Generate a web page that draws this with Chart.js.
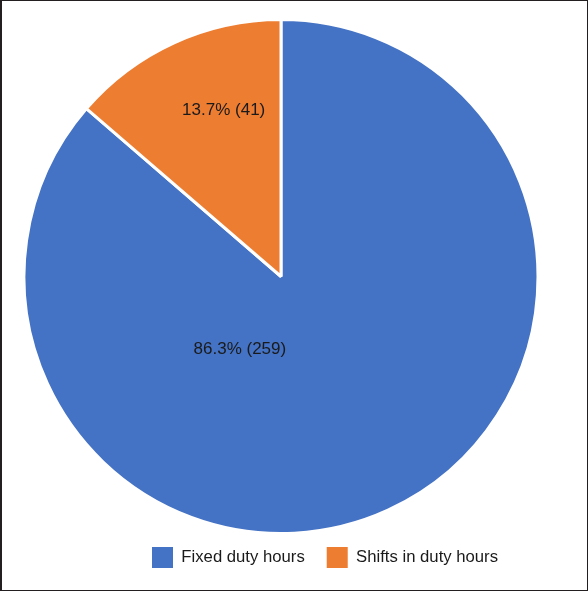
<!DOCTYPE html>
<html>
<head>
<meta charset="utf-8">
<script src="https://cdn.jsdelivr.net/npm/chart.js@4.4.1/dist/chart.umd.min.js"></script>
<style>
  html, body { margin: 0; padding: 0; background: #fff; }
  #wrap { position: relative; width: 588px; height: 591px; }
  #frame { position: absolute; left: 0; top: 0; width: 588px; height: 591px; box-sizing: border-box; border: 1px solid #231f20; border-left-width: 2px; pointer-events: none; }
</style>
</head>
<body>
<div id="wrap">
  <canvas id="pie" width="588" height="591"></canvas>
  <div id="frame"></div>
</div>
<script>
const categories = ['Fixed duty hours', 'Shifts in duty hours']
const counts = [259, 41]
const percents = ['86.3%', '13.7%']
const colors = ['#4472C4', '#ED7D31']

// where Excel put the labels, as a fraction of the radius from the centre
const labelSpots = [[-0.16, 0.285], [-0.223, -0.645]]

const fontFamily = '"Liberation Sans", Arial, sans-serif'

const sliceLabels = {
  id: 'sliceLabels',
  afterDatasetsDraw(chart) {
    const ctx = chart.ctx
    const arc = chart.getDatasetMeta(0).data[0]
    ctx.save()
    ctx.font = '17px ' + fontFamily
    ctx.fillStyle = '#1a1a1a'
    ctx.textAlign = 'center'
    ctx.textBaseline = 'middle'
    counts.forEach((n, i) => {
      const x = arc.x + labelSpots[i][0] * arc.outerRadius
      const y = arc.y + labelSpots[i][1] * arc.outerRadius
      ctx.fillText(percents[i] + ' (' + n + ')', x, y)
    })
    ctx.restore()
  }
}

// legend sits a bit right of the pie and closer to it in the original
const legendShift = {
  id: 'legendShift',
  afterLayout(chart) {
    chart.legend.left += 44
    chart.legend.right += 44
    chart.legend.top -= 10
    chart.legend.bottom -= 10
  }
}

const ctx = document.getElementById('pie').getContext('2d')

new Chart(ctx, {
  type: 'pie',
  data: {
    labels: categories,
    datasets: [{
      data: counts,
      backgroundColor: colors,
      borderColor: '#ffffff',
      borderWidth: 3
    }]
  },
  options: {
    responsive: false,
    animation: false,
    layout: { padding: { top: 18, left: 0, right: 26, bottom: 3 } },
    plugins: {
      tooltip: { enabled: false },
      legend: {
        position: 'bottom',
        labels: {
          boxWidth: 21,
          boxHeight: 21,
          padding: 22,
          color: '#1a1a1a',
          font: { size: 16.7, family: fontFamily },
          generateLabels(chart) {
            const items = Chart.overrides.pie.plugins.legend.labels.generateLabels(chart)
            items.forEach(item => { item.lineWidth = 0 })
            return items
          }
        }
      }
    }
  },
  plugins: [sliceLabels, legendShift]
});
</script>
</body>
</html>
